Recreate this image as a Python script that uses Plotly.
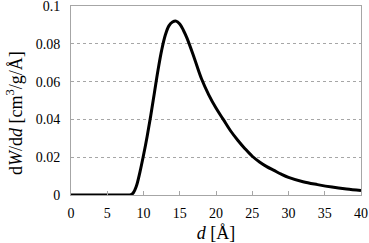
import plotly.graph_objects as go

FONT = "Liberation Serif, Times New Roman, serif"

# pore size distribution
d_vals = [0, 5, 8, 8.3, 8.6, 9, 9.5, 10, 10.5, 11, 11.5, 12, 12.5, 13, 13.5, 14, 14.5,
          15, 15.5, 16, 17, 18, 19, 20, 21, 22, 23, 24, 25, 26, 27, 28, 29, 30,
          32, 34, 36, 38, 40]
dw_vals = [0, 0, 0, 0.0002, 0.0012, 0.0045, 0.012, 0.021, 0.031, 0.042, 0.054, 0.066,
           0.0765, 0.0845, 0.0895, 0.0915, 0.092, 0.0905, 0.0872, 0.083, 0.0725,
           0.0615, 0.053, 0.046, 0.040, 0.034, 0.029, 0.0245, 0.0205, 0.0175, 0.015,
           0.013, 0.011, 0.0093, 0.007, 0.0055, 0.0042, 0.0032, 0.0024]

x_ticks = [0, 5, 10, 15, 20, 25, 30, 35, 40]
y_ticks = [0, 0.02, 0.04, 0.06, 0.08, 0.1]
y_labels = ["0", "0.02", "0.04", "0.06", "0.08", "0.1"]

fig = go.Figure(go.Scatter(
    x=d_vals, y=dw_vals, mode="lines",
    line=dict(color="black", width=3, shape="spline", smoothing=1.0),
    showlegend=False, hoverinfo="skip",
))

fig.update_layout(
    width=369, height=243,
    margin=dict(l=71, r=8, t=6, b=48),
    plot_bgcolor="white", paper_bgcolor="white",
    font=dict(family=FONT, color="black", size=14),
)
fig.update_xaxes(
    range=[0, 40], tickvals=x_ticks, showgrid=False, zeroline=False,
    showline=True, linecolor="#a6a6a6", linewidth=1, mirror=True,
    ticks="inside", ticklen=4, tickcolor="#a6a6a6", automargin=False,
    ticklabeloverflow="allow",
    tickfont=dict(family=FONT, size=14, color="black"), ticklabelstandoff=5,
    title=dict(text="<i>d</i> [Å]", font=dict(family=FONT, size=18), standoff=7),
)
fig.update_yaxes(
    range=[0, 0.1], tickvals=y_ticks, ticktext=y_labels,
    showgrid=True, gridcolor="#a6a6a6", griddash="dot", gridwidth=1,
    zeroline=False, showline=True, linecolor="#a6a6a6", linewidth=1, mirror=True,
    automargin=False, ticklabeloverflow="allow",
    tickfont=dict(family=FONT, size=14, color="black"), ticklabelstandoff=7,
)

# y title as annotation so it can sit a bit below centre like the original
fig.add_annotation(
    text="d<i>W</i>/d<i>d</i> [cm<sup>3</sup>/g/Å]",
    xref="paper", yref="paper", x=-0.193, y=0.434,
    xanchor="center", yanchor="middle", textangle=-90, showarrow=False,
    font=dict(family=FONT, size=18, color="black"),
)

# drop the default 8px page margin so the figure sits at the window corner
fig.write_html("out.html", config={"displayModeBar": False},
               post_script="document.body.style.margin='0';")
